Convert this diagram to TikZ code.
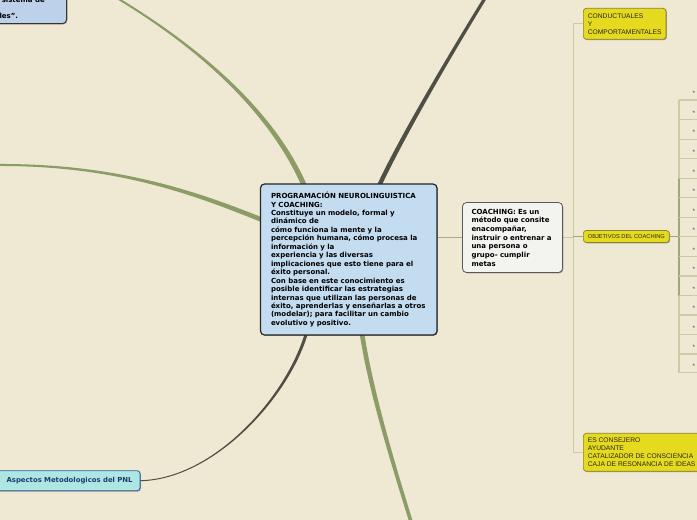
\documentclass[tikz,border=0pt]{standalone}
\usepackage{fontspec}
\setmainfont{DejaVu Sans}
\newfontfamily\arialf{Liberation Sans}
\usetikzlibrary{calc,shadows}
\definecolor{bgc}{HTML}{EFE8D3}
\definecolor{cblue}{HTML}{C4DCF0}
\definecolor{tlblue}{HTML}{BDD1EB}
\definecolor{cyanf}{HTML}{AEE6E4}
\definecolor{cyand}{HTML}{2E5FA0}
\definecolor{navytx}{HTML}{1E3D6E}
\definecolor{ylw}{HTML}{E6DA1E}
\definecolor{ylwd}{HTML}{8A8330}
\definecolor{olive}{HTML}{8C9C66}
\definecolor{darkl}{HTML}{4F4F45}
\definecolor{treel}{HTML}{CDCAA6}
\definecolor{treeg}{HTML}{9DA97C}
\definecolor{cgray}{HTML}{F3F3EF}
\pgfdeclarelayer{bgl}
\pgfdeclarelayer{edl}
\pgfsetlayers{bgl,edl,main}
\newcommand\taperpath[7]{%
  \fill[#7] ($(#1)!#5!90:(#2)$) .. controls ($(#2)!#5!-90:(#1)$) and ($(#3)!#6!90:(#4)$) .. ($(#4)!#6!-90:(#3)$)
   -- ($(#4)!#6!90:(#3)$) .. controls ($(#3)!#6!-90:(#4)$) and ($(#2)!#5!90:(#1)$) .. ($(#1)!#5!-90:(#2)$) -- cycle;}
\tikzset{
  shad/.style={drop shadow={shadow xshift=0.8pt, shadow yshift=-0.8pt, opacity=0.35, fill=black}},
  mainbox/.style={shad, draw=black!85, line width=1.2pt, rounded corners=4pt, fill=cblue,
    font=\bfseries\fontsize{7pt}{8.45pt}\selectfont, align=left, inner xsep=10.5pt, inner ysep=0pt},
  coachbox/.style={shad, draw=black!65, line width=0.8pt, rounded corners=4pt, fill=cgray,
    font=\bfseries\fontsize{7pt}{8.65pt}\selectfont, align=left, inner xsep=9pt, inner ysep=0pt},
  ybox/.style={shad, draw=ylwd, line width=0.7pt, rounded corners=3pt, fill=ylw, text=black!85,
    font=\arialf\fontsize{6.7pt}{8.1pt}\selectfont, align=left, inner xsep=4.5pt, inner ysep=0pt, anchor=west},
  aspbox/.style={shad, draw=cyand, line width=0.8pt, rounded corners=3pt, fill=cyanf, text=navytx,
    font=\bfseries\fontsize{6.9pt}{8pt}\selectfont, align=right, inner xsep=7.5pt, inner ysep=0pt},
  tlbox/.style={shad, draw=black!80, line width=0.9pt, rounded corners=4pt, fill=tlblue},
  tltext/.style={font=\bfseries\fontsize{7pt}{8.45pt}\selectfont, inner sep=0pt, anchor=east},
  treeline/.style={treel, line width=1.3pt},
  treegreen/.style={treeg, line width=1.3pt},
  link/.style={olive!80, line width=0.9pt},
  starlbl/.style={font=\arialf\fontsize{6.5pt}{6.5pt}\selectfont, inner sep=0pt, anchor=west, text=black!70}
}
\begin{document}
\begin{tikzpicture}[x=1pt,y=-1pt]
\useasboundingbox (0,0) rectangle (697,520);
\begin{pgfonlayer}{bgl}
\fill[bgc] (-5,-5) rectangle (702,525);
\end{pgfonlayer}

% nodes
\node[mainbox, minimum width=176.5pt, minimum height=151pt, text width=155.5pt] (c) at (348.75,259.5)
{PROGRAMACIÓN NEUROLINGUISTICA\\Y COACHING:\\Constituye un modelo, formal y\\dinámico de\\cómo funciona la mente y la\\percepción humana, cómo procesa la\\información y la\\experiencia y las diversas\\implicaciones que esto tiene para el\\éxito personal.\\Con base en este conocimiento es\\posible identificar las estrategias\\internas que utilizan las personas de\\éxito, aprenderlas y enseñarlas a otros\\(modelar); para facilitar un cambio\\evolutivo y positivo.};

\node[coachbox, minimum width=100pt, minimum height=70pt, text width=82pt] (co) at (512.5,237.5)
{COACHING: Es un\\método que consite\\enacompañar,\\instruir o entrenar a\\una persona o\\grupo- cumplir\\metas};

\node[ybox, minimum height=31pt] (cond) at (583,23.8) {CONDUCTUALES\\Y\\COMPORTAMENTALES};
\node[ybox, minimum height=12pt, font=\arialf\fontsize{5.7pt}{6pt}\selectfont] (obj) at (583,236.5) {OBJETIVOS DEL COACHING};
\node[ybox, minimum height=38pt] (cons) at (583,452.3) {ES CONSEJERO\\AYUDANTE\\CATALIZADOR DE CONSCIENCIA\\CAJA DE RESONANCIA DE IDEAS};

\node[aspbox, minimum height=20pt, text width=145pt, anchor=east] (asp) at (140.5,480.7) {Aspectos Metodologicos del PNL};

\node[tlbox, minimum width=100pt, minimum height=60pt, anchor=south east] (tl) at (67,24) {};
\node[tltext] (tla) at (45,-0.5) {sistema de};
\node[tltext] (tlb) at (18.3,16) {les”.};

% right tree of objectives
\coordinate (ot) at (679,236.5);
\foreach \yy [count=\i] in {100,119.5,139.2,158.7,178.3,197.7,217.3,236.7,256.5,276,295.7,315,334.7,354,372.7}{
  \coordinate (b\i) at (679,\yy);
  \coordinate (e\i) at (702,\yy);
  \node[starlbl] (m\i) at (692.5,\yy-6.5) {*};
}

\begin{pgfonlayer}{edl}
% tapered main connectors
\coordinate (cTL) at ($(c.north west)+(46,6)$);
\coordinate (eTL) at (112,-5);
\taperpath{cTL}{276,118}{208,52}{eTL}{2.6pt}{1pt}{olive}
\coordinate (cL) at ($(c.north west)+(6,38)$);
\coordinate (eL) at (-5,165);
\taperpath{cL}{200,195}{120,164}{eL}{2.3pt}{1pt}{olive}
\coordinate (cT) at ($(c.north west)+(117.5,6)$);
\coordinate (eT) at (487,-5);
\taperpath{cT}{400,140}{450,55}{eT}{2.2pt}{1.6pt}{darkl}
\coordinate (cB) at ($(c.south west)+(101.5,-6)$);
\coordinate (eB) at (412,525);
\taperpath{cB}{370,390}{395,470}{eB}{2.3pt}{1.8pt}{olive}
\coordinate (cBL) at ($(c.south west)+(47.5,-6)$);
\taperpath{cBL}{290,395}{215,479}{asp.east}{1.5pt}{0.5pt}{darkl}

% central to coaching
\draw[link] (c.east |- co.west) -- (co.west);
% coaching tree
\coordinate (trunk) at ($(co.east)+(10.5,0)$);
\draw[treeline] (co.east) -- (trunk);
\draw[treeline] (trunk |- cond.west) -- (trunk |- cons.west);
\draw[treeline] (trunk |- cond.west) -- (cond.west);
\draw[treeline] (trunk |- cons.west) -- (cons.west);
\draw[treegreen] (trunk |- obj.west) -- (obj.west);
% objectives tree
\draw[treegreen] (obj.east) -- (ot);
\draw[treeline] (b1) -- (b15);
\draw[treegreen] (b5) -- (b11);
\foreach \i in {1,...,15}{ \draw[treeline] (b\i) -- (e\i); }
\end{pgfonlayer}
\end{tikzpicture}
\end{document}
